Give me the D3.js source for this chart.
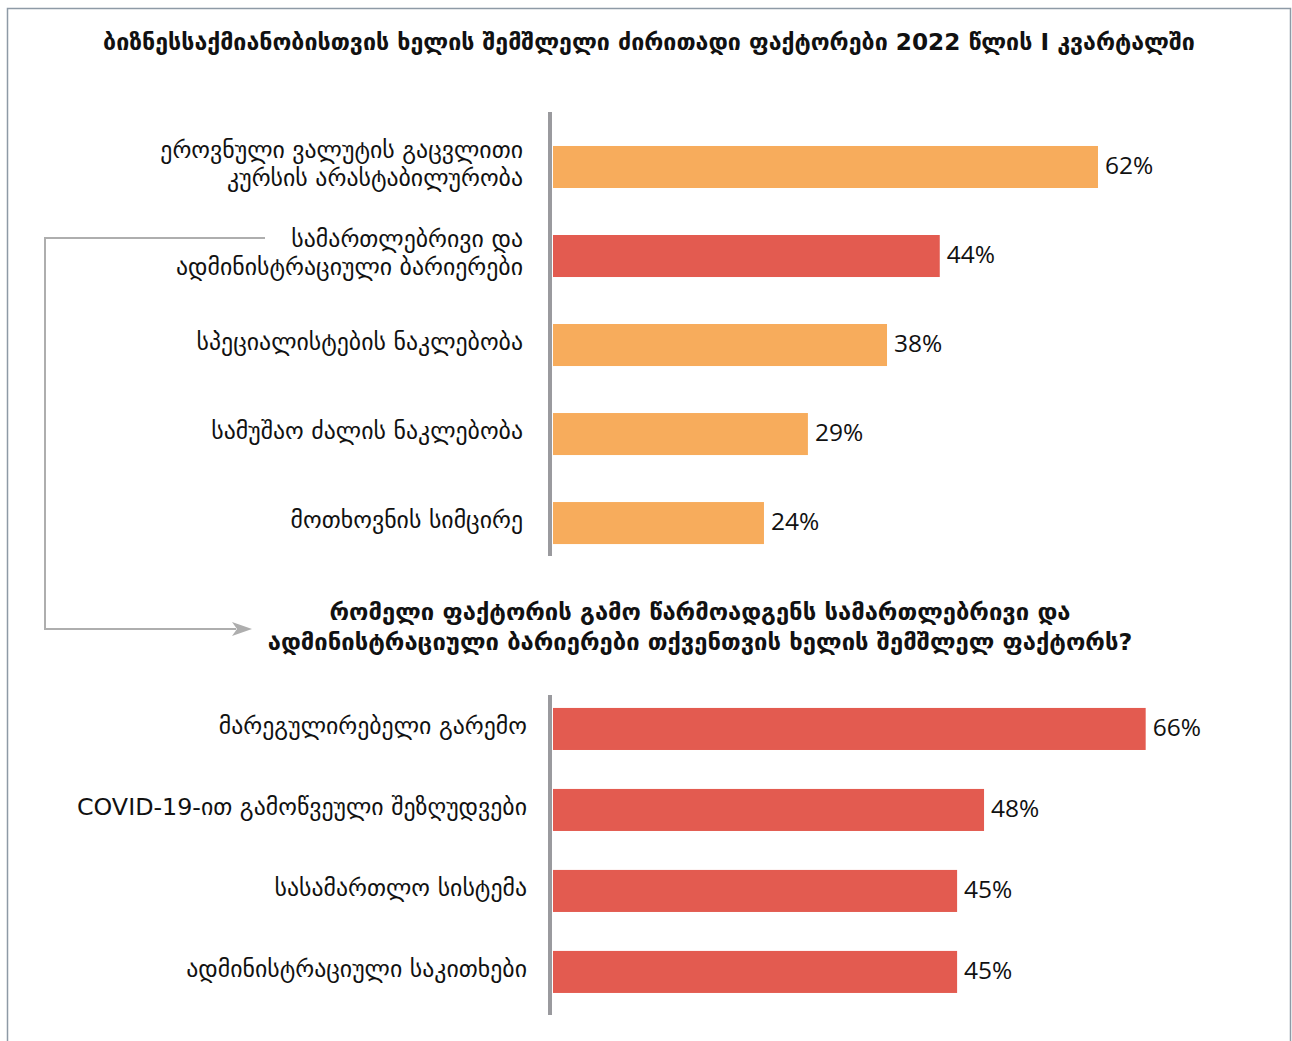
<!DOCTYPE html>
<html>
<head>
<meta charset="utf-8">
<script src="https://cdn.jsdelivr.net/npm/d3@7.9.0/dist/d3.min.js"></script>
<style>
  body { margin: 0; background: #fff; }
  svg text { font-family: "DejaVu Sans", sans-serif; fill: #111; }
  svg text.value { font-family: "Open Sans", "DejaVu Sans", sans-serif; }
</style>
</head>
<body>
<svg id="chart" width="1292" height="1041"></svg>
<script>
const title = 'ბიზნესსაქმიანობისთვის ხელის შემშლელი ძირითადი ფაქტორები 2022 წლის I კვარტალში';
const subtitle = [
  'რომელი ფაქტორის გამო წარმოადგენს სამართლებრივი და',
  'ადმინისტრაციული ბარიერები თქვენთვის ხელის შემშლელ ფაქტორს?'
];

const topCategories = [
  ['ეროვნული ვალუტის გაცვლითი', 'კურსის არასტაბილურობა'],
  ['სამართლებრივი და', 'ადმინისტრაციული ბარიერები'],
  ['სპეციალისტების ნაკლებობა'],
  ['სამუშაო ძალის ნაკლებობა'],
  ['მოთხოვნის სიმცირე']
];
const topValues = [62, 44, 38, 29, 24];
const highlightIndex = 1;

const bottomCategories = [
  ['მარეგულირებელი გარემო'],
  ['COVID-19-ით გამოწვეული შეზღუდვები'],
  ['სასამართლო სისტემა'],
  ['ადმინისტრაციული საკითხები']
];
const bottomValues = [66, 48, 45, 45];

const orange = '#f7ac5c';
const red = '#e35b50';

const svg = d3.select('#chart');

// frame
svg.append('rect')
  .attr('x', 7.5).attr('y', 8.5)
  .attr('width', 1283).attr('height', 1100)
  .attr('fill', 'none')
  .attr('stroke', '#8e9aa6')
  .attr('stroke-width', 1.5);

svg.append('text')
  .attr('x', 649).attr('y', 50)
  .attr('text-anchor', 'middle')
  .attr('font-size', 23.2)
  .attr('font-weight', 'bold')
  .text(title);

function drawBars(opts) {
  const { categories, values, y0, y1, pad, align, span, labelX, colorFn } = opts;

  const x = d3.scaleLinear().domain([0, 100]).range([553, 553 + span]);

  const y = d3.scaleBand()
    .domain(d3.range(values.length))
    .range([y0, y1])
    .paddingInner(pad)
    .paddingOuter(opts.outer)
    .align(align);

  const g = svg.append('g');

  g.selectAll('rect.bar')
    .data(values)
    .join('rect')
    .attr('class', 'bar')
    .attr('x', x(0))
    .attr('y', (d, i) => y(i))
    .attr('width', (d) => x(d) - x(0))
    .attr('height', y.bandwidth())
    .attr('fill', (d, i) => colorFn(i));

  g.selectAll('text.value')
    .data(values)
    .join('text')
    .attr('class', 'value')
    .attr('x', (d) => x(d) + 7)
    .attr('y', (d, i) => y(i) + y.bandwidth() / 2 - 2)
    .attr('dy', '0.35em')
    .attr('font-size', 24.5)
    .text((d) => d + '%');

  categories.forEach((lines, i) => {
    const cy = y(i) + y.bandwidth() / 2 - 3;
    const lh = 28;
    const t = g.append('text')
      .attr('text-anchor', 'end')
      .attr('font-size', 23.8);
    lines.forEach((line, j) => {
      t.append('tspan')
        .attr('x', labelX)
        .attr('y', cy + (j - (lines.length - 1) / 2) * lh)
        .attr('dy', '0.35em')
        .text(line);
    });
  });

  g.append('line')
    .attr('x1', 550).attr('x2', 550)
    .attr('y1', y0).attr('y2', y1)
    .attr('stroke', '#9a9a9e')
    .attr('stroke-width', 4);
}

drawBars({
  categories: topCategories, values: topValues,
  y0: 112, y1: 556, pad: 0.528, outer: 0.258, align: 0.74,
  span: 879, labelX: 523,
  colorFn: (i) => (i === highlightIndex ? red : orange)
});

// connector arrow
svg.append('path')
  .attr('d', 'M265,238 H45 V629 H236')
  .attr('fill', 'none')
  .attr('stroke', '#aeaeae')
  .attr('stroke-width', 2);
svg.append('path')
  .attr('d', 'M252,629 L232,622 L237,629 L232,636 Z')
  .attr('fill', '#aeaeae');

svg.append('text')
  .attr('x', 700).attr('y', 620)
  .attr('text-anchor', 'middle')
  .attr('font-size', 23.8)
  .attr('font-weight', 'bold')
  .selectAll('tspan')
  .data(subtitle)
  .join('tspan')
  .attr('x', 700)
  .attr('dy', (d, i) => (i === 0 ? 0 : 30))
  .text((d) => d);

drawBars({
  categories: bottomCategories, values: bottomValues,
  y0: 695, y1: 1015, pad: 0.481, outer: 0.216, align: 0.37,
  span: 898, labelX: 527,
  colorFn: () => red
});
</script>
</body>
</html>
